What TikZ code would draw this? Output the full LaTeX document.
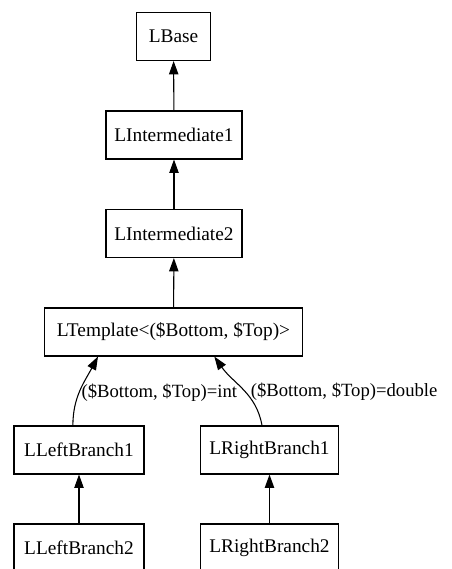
\documentclass[tikz,border=0pt]{standalone}
\usepackage{fontspec}
\setmainfont{Liberation Serif}
\usetikzlibrary{arrows.meta}
\tikzset{
  cls/.style={draw, line width=0.8pt, minimum height=36pt, inner sep=0pt, font=\fontsize{14.5}{16}\selectfont},
  lbl/.style={right, inner sep=1.5pt, font=\fontsize{14}{16}\selectfont},
}
\begin{document}
\begin{tikzpicture}[x=0.75pt, y=-0.75pt]
      \useasboundingbox (0,0) rectangle (452,569);
      \draw
        (173.5,36.5) node[cls, minimum width=55pt] (LBase){LBase}
        (174,135) node[cls, minimum width=102pt] (LIntermediate1){LIntermediate1}
        (174,233.5) node[cls, minimum width=102pt] (LIntermediate2){LIntermediate2}
        (173.5,332) node[cls, minimum width=193pt] (LTemplate){LTemplate<(\$Bottom, \$Top)>}
        (79,450) node[cls, minimum width=97.5pt] (LLeftBranch1){LLeftBranch1}
        (269.5,450) node[cls, minimum width=103pt] (LRightBranch1){LRightBranch1}
        (79,548) node[cls, minimum width=97.5pt] (LLeftBranch2){LLeftBranch2}
        (269.5,548) node[cls, minimum width=103pt] (LRightBranch2){LRightBranch2};
      \begin{scope}[line width=0.8pt, -{Triangle[length=10pt,width=7pt]}]
        \draw (LIntermediate1) to (LBase);
        \draw (LIntermediate2) to (LIntermediate1);
        \draw (LTemplate) to (LIntermediate2);
        \draw (LLeftBranch1.104) to[out=90, in=-118]
          node[lbl, pos=0.45] {(\$Bottom, \$Top)=int} (LTemplate.198);
        \draw (LRightBranch1.107) to[out=100, in=-55]
          node[lbl, pos=0.45, xshift=2pt] {(\$Bottom, \$Top)=double} (LTemplate.329);
        \draw (LLeftBranch2) to (LLeftBranch1);
        \draw (LRightBranch2) to (LRightBranch1);
      \end{scope}
    \end{tikzpicture}
\end{document}
